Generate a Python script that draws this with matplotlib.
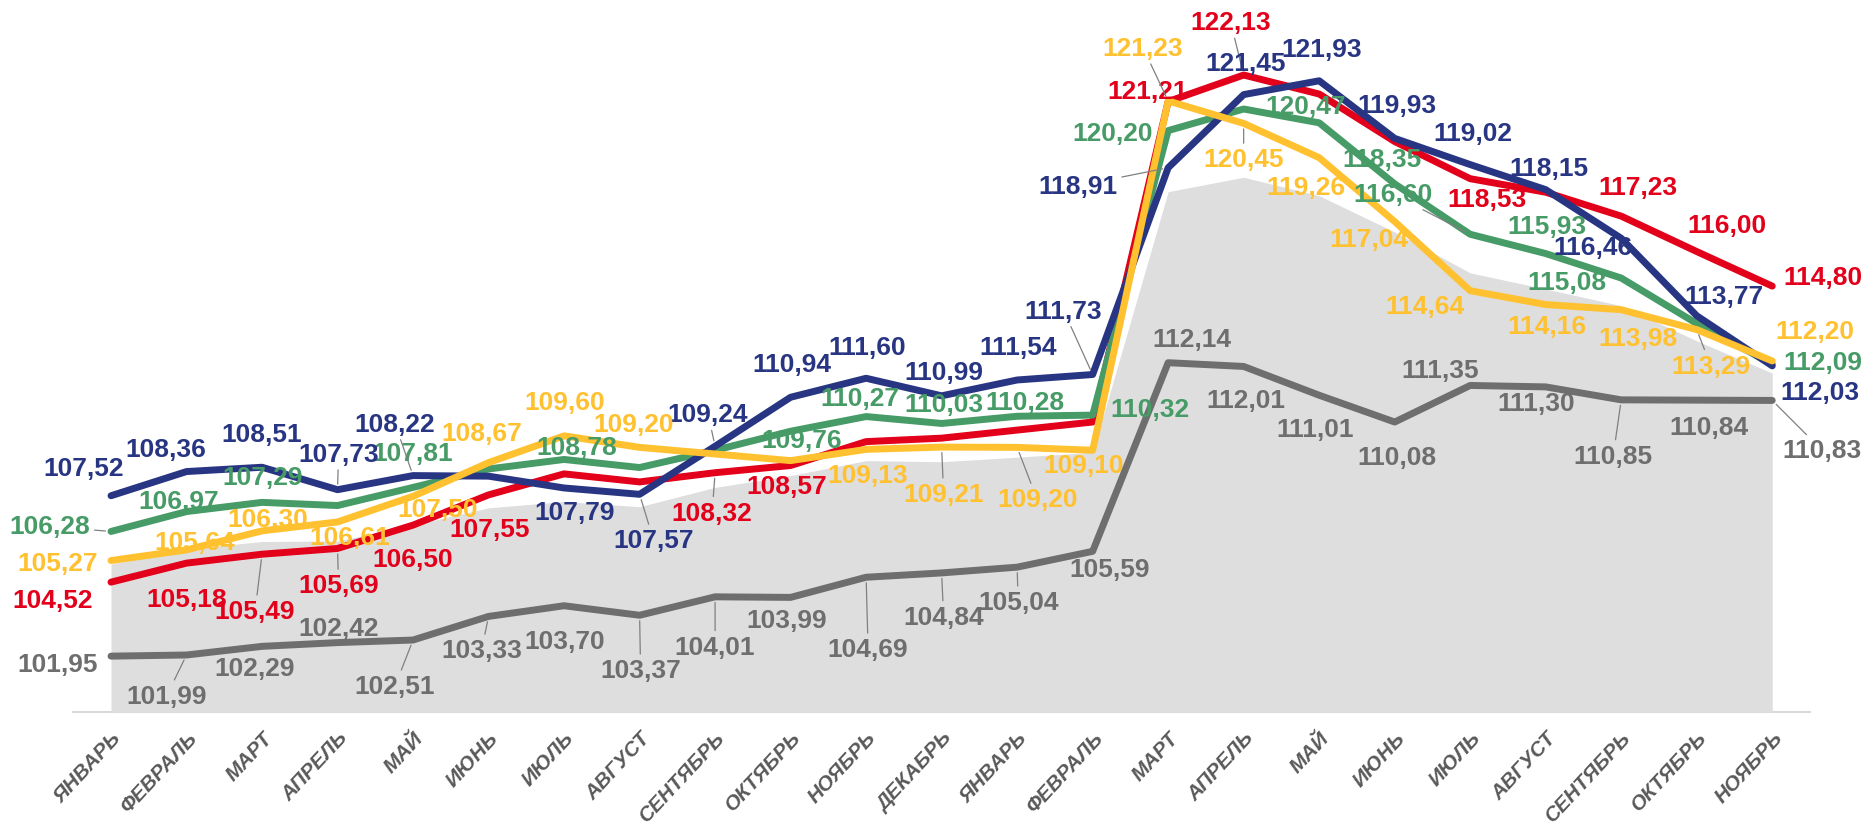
import matplotlib

matplotlib.use("Agg")
import matplotlib.pyplot as plt

plt.rcParams["font.family"] = ["Liberation Sans", "DejaVu Sans"]

# ---- data ----
MONTHS = ["ЯНВАРЬ", "ФЕВРАЛЬ", "МАРТ", "АПРЕЛЬ", "МАЙ", "ИЮНЬ", "ИЮЛЬ", "АВГУСТ",
          "СЕНТЯБРЬ", "ОКТЯБРЬ", "НОЯБРЬ", "ДЕКАБРЬ",
          "ЯНВАРЬ", "ФЕВРАЛЬ", "МАРТ", "АПРЕЛЬ", "МАЙ", "ИЮНЬ", "ИЮЛЬ", "АВГУСТ",
          "СЕНТЯБРЬ", "ОКТЯБРЬ", "НОЯБРЬ"]

BLUE = [107.52, 108.36, 108.51, 107.73, 108.22, 108.20, 107.79, 107.57, 109.24, 110.94,
        111.60, 110.99, 111.54, 111.73, 118.91, 121.45, 121.93, 119.93, 119.02, 118.15,
        116.46, 113.77, 112.03]
RED = [104.52, 105.18, 105.49, 105.69, 106.50, 107.55, 108.28, 108.00, 108.32, 108.57,
       109.40, 109.52, 109.80, 110.08, 121.21, 122.13, 121.47, 119.82, 118.53, 118.06,
       117.23, 116.00, 114.80]
GREEN = [106.28, 106.97, 107.29, 107.18, 107.81, 108.45, 108.78, 108.50, 109.10, 109.76,
         110.27, 110.03, 110.28, 110.32, 120.20, 120.95, 120.47, 118.35, 116.60, 115.93,
         115.08, 113.50, 112.09]
YELLOW = [105.27, 105.64, 106.30, 106.61, 107.50, 108.67, 109.60, 109.20, 108.97, 108.74,
          109.13, 109.21, 109.20, 109.10, 121.23, 120.45, 119.26, 117.04, 114.64, 114.16,
          113.98, 113.29, 112.20]
GRAY = [101.95, 101.99, 102.29, 102.42, 102.51, 103.33, 103.70, 103.37, 104.01, 103.99,
        104.69, 104.84, 105.04, 105.59, 112.14, 112.01, 111.01, 110.08, 111.35, 111.30,
        110.85, 110.84, 110.83]
AREA = [105.15, 105.67, 105.93, 105.95, 106.50, 107.10, 107.32, 107.14, 107.81, 108.22,
        108.74, 108.70, 108.86, 109.03, 118.08, 118.58, 117.94, 116.68, 115.26, 114.70,
        114.12, 112.90, 111.78]

# ---- label placement (pixel offsets from the point; None = no label) ----
BLUE_OFF = [(-27, 28), (-21, 23), (0, 33), (1, 36), (-18, 52), None, (11, -24), (14, -46),
            (-7, 32), (1, 33), (1, 31), (2, 24), (1, 33), (-29, 64), (-90, -18), (2, 32),
            (3, 32), (2, 33), (3, 32), (3, 22), (-28, -9), (27, 20), (48, -26)]
RED_OFF = [(-58, -18), (0, -36), (-7, -57), (1, -37), (0, -34), (1, -34), None, None,
           (-3, -40), (-4, -20), None, None, None, None, (-21, 11), (-13, 53),
           None, None, (17, -20), None, (17, 29), (30, 27), (51, 9)]
GREEN_OFF = [(-61, 5), (-8, 11), (1, 25), None, (0, 34), None, (13, 12), None, None,
             (11, -9), (-6, 19), (2, 19), (8, 14), (57, 6), (-56, -2), None, (-14, 17),
             (-13, 25), (-77, 40), (1, 28), (-54, -4), None, (51, 2)]
YELLOW_OFF = [(-53, -2), (8, 8), (6, 12), (12, -15), (25, -13), (-7, 30), (1, 34), (-6, 23),
              None, None, (2, -26), (2, -47), (20, -52), (-9, -15), (-25, 53), (0, -36),
              (-13, -29), (-26, -17), (-45, -15), (1, -21), (17, -28), (14, -36), (43, 30)]
GRAY_OFF = [(-53, -8), (-20, -41), (-7, -22), (1, 15), (-18, -46), (-7, -34), (1, -35),
            (1, -55), (0, -50), (-4, -23), (2, -72), (2, -44), (1, -35), (17, -18),
            (24, 24), (2, -34), (-4, -34), (2, -35), (-30, 15), (-10, -16), (-8, -56),
            (12, -27), (50, -50)]

BLUE_LEAD = {3, 4, 7, 8, 13, 14}
RED_LEAD = {2, 3, 8, 15}
GREEN_LEAD = {0, 18}
YELLOW_LEAD = {11, 12, 14, 15, 21}
GRAY_LEAD = {1, 4, 5, 7, 8, 10, 11, 12, 20, 22}

C_BLUE = "#283583"
C_RED = "#E2001A"
C_GREEN = "#469B66"
C_YELLOW = "#FFC12F"
C_GRAY = "#6E6E6E"


def draw_series(ax, x, values, offsets, leaders, color, z):
    ax.plot(x, values, color=color, lw=5, solid_capstyle="round",
            solid_joinstyle="round", zorder=z)
    for i, (v, off) in enumerate(zip(values, offsets)):
        if off is None:
            continue
        arrow = None
        if i in leaders:
            arrow = dict(arrowstyle="-", color="#808080", lw=0.9, shrinkA=1, shrinkB=4)
        ax.annotate(f"{v:.2f}".replace(".", ","), (x[i], v), xytext=off,
                    textcoords="offset pixels", ha="center", va="center",
                    fontsize=19, fontweight="bold", color=color,
                    arrowprops=arrow, zorder=10, annotation_clip=False)


def main():
    W, H = 1864, 829
    fig = plt.figure(figsize=(W / 100, H / 100), dpi=100)
    left, right, bottom = 73.25, 1810.0, 713.3
    ax = fig.add_axes([left / W, (H - bottom) / H, (right - left) / W, bottom / H])
    x = list(range(len(MONTHS)))

    ax.fill_between(x, 100, AREA, color="#DEDEDE", lw=0, zorder=1)
    draw_series(ax, x, GRAY, GRAY_OFF, GRAY_LEAD, C_GRAY, 2)
    draw_series(ax, x, RED, RED_OFF, RED_LEAD, C_RED, 3)
    draw_series(ax, x, GREEN, GREEN_OFF, GREEN_LEAD, C_GREEN, 4)
    draw_series(ax, x, BLUE, BLUE_OFF, BLUE_LEAD, C_BLUE, 5)
    draw_series(ax, x, YELLOW, YELLOW_OFF, YELLOW_LEAD, C_YELLOW, 6)

    ax.set_xlim(-0.5, len(MONTHS) - 0.5)
    ax.set_ylim(100, 124.77)
    for side in ["left", "right", "top"]:
        ax.spines[side].set_visible(False)
    ax.spines["bottom"].set_color("#D9D9D9")
    ax.spines["bottom"].set_linewidth(1.5)
    ax.spines["bottom"].set_zorder(0.5)
    ax.set_yticks([])
    ax.set_xticks(x)
    ax.set_xticklabels(MONTHS, rotation=47, ha="right", va="top", rotation_mode="anchor",
                       fontsize=15, fontweight="bold", fontstyle="italic", color="#595959")
    ax.tick_params(axis="x", length=0, pad=11)
    ax.patch.set_visible(False)

    fig.savefig("out.png", dpi=100)
    plt.close(fig)


if __name__ == "__main__":
    main()
